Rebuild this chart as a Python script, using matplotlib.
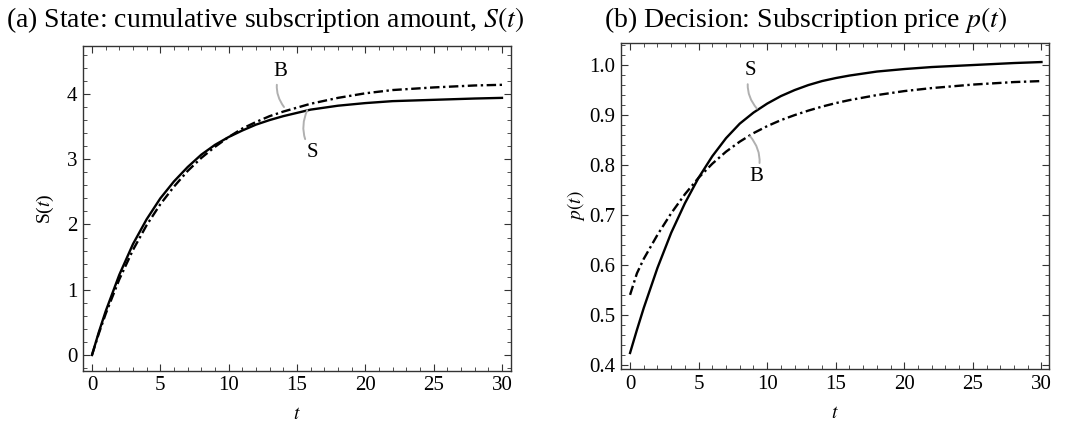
import matplotlib
matplotlib.use("Agg")
import matplotlib.pyplot as plt
from matplotlib.ticker import MultipleLocator, FormatStrFormatter

plt.rcParams['font.family'] = ['Liberation Serif', 'DejaVu Serif']
plt.rcParams['mathtext.fontset'] = 'stix'

# time grid
t = [0, 0.5, 1, 2, 3, 4, 5, 6, 7, 8, 9, 10, 11, 12, 13, 14, 15, 16, 18, 20, 22, 25, 28, 30]

# (a) cumulative subscription amount S(t)
S_state_S = [0.0, 0.35, 0.67, 1.23, 1.70, 2.08, 2.40, 2.66, 2.88, 3.07, 3.22, 3.34, 3.44, 3.53,
             3.60, 3.66, 3.71, 3.76, 3.82, 3.86, 3.89, 3.91, 3.93, 3.94]
S_state_B = [0.0, 0.33, 0.63, 1.16, 1.61, 1.99, 2.31, 2.58, 2.82, 3.02, 3.19, 3.34, 3.47, 3.57,
             3.66, 3.73, 3.79, 3.85, 3.94, 4.01, 4.06, 4.10, 4.13, 4.14]

# (b) subscription price p(t)
p_S = [0.424, 0.470, 0.514, 0.594, 0.664, 0.723, 0.774, 0.817, 0.853, 0.882, 0.904, 0.922, 0.937,
       0.949, 0.959, 0.967, 0.973, 0.978, 0.986, 0.991, 0.995, 0.999, 1.003, 1.005]
p_B = [0.540, 0.583, 0.612, 0.660, 0.703, 0.741, 0.774, 0.802, 0.826, 0.846, 0.863, 0.877, 0.889,
       0.899, 0.908, 0.916, 0.923, 0.929, 0.939, 0.947, 0.953, 0.960, 0.965, 0.967]

dashdot = (0, (4, 1.5, 1, 1.5))
frame = '#333333'
leader = '#b0b0b0'

fig = plt.figure(figsize=(10.65, 4.25), dpi=100)
ax1 = fig.add_axes([0.0779, 0.1278, 0.4019, 0.764])
ax2 = fig.add_axes([0.5831, 0.1318, 0.4019, 0.767])


def style(ax, ymajor, yminor):
    ax.xaxis.set_major_locator(MultipleLocator(5))
    ax.xaxis.set_minor_locator(MultipleLocator(1))
    ax.yaxis.set_major_locator(MultipleLocator(ymajor))
    ax.yaxis.set_minor_locator(MultipleLocator(yminor))
    ax.tick_params(which='both', direction='in', top=True, right=True,
                   color=frame, labelsize=15, pad=4)
    ax.tick_params(which='major', length=5, width=0.8)
    ax.tick_params(which='minor', length=3, width=0.6)
    for sp in ax.spines.values():
        sp.set_color(frame)
        sp.set_linewidth(1.0)
    ax.set_xlabel(r'$t$', fontsize=14, labelpad=8)


def leader_label(ax, txt, on_curve, at, rad):
    ax.annotate(txt, xy=on_curve, xytext=at, fontsize=15,
                ha='center', va='center',
                arrowprops=dict(arrowstyle='-', color=leader, lw=1.4,
                                shrinkA=1, shrinkB=0,
                                connectionstyle='arc3,rad=%g' % rad))


# ---- (a) ----
ax1.plot(t, S_state_S, color='black', lw=1.7)
ax1.plot(t, S_state_B, color='black', lw=1.7, linestyle=dashdot)
ax1.set_xlim(-0.66, 30.66)
ax1.set_ylim(-0.24, 4.735)
style(ax1, 1, 0.2)
ax1.set_ylabel(r'S($t$)', fontsize=14, labelpad=8)
leader_label(ax1, 'B', (14.05, 3.80), (13.8, 4.35), 0.3)
leader_label(ax1, 'S', (15.75, 3.75), (16.15, 3.10), -0.3)

# ---- (b) ----
ax2.plot(t, p_S, color='black', lw=1.7)
ax2.plot(t, p_B, color='black', lw=1.7, linestyle=dashdot)
ax2.set_xlim(-0.66, 30.55)
ax2.set_ylim(0.392, 1.043)
style(ax2, 0.1, 0.02)
ax2.yaxis.set_major_formatter(FormatStrFormatter('%.1f'))
ax2.set_ylabel(r'$p(t)$', fontsize=14, labelpad=2)
leader_label(ax2, 'S', (9.25, 0.912), (8.8, 0.988), 0.3)
leader_label(ax2, 'B', (8.75, 0.857), (9.2, 0.776), 0.3)

# panel titles
fig.text(0.249, 0.953, r'(a) State: cumulative subscription amount, $S(t)$',
         fontsize=20, ha='center', va='center')
fig.text(0.756, 0.953, r'(b) Decision: Subscription price $p(t)$',
         fontsize=20, ha='center', va='center')

fig.savefig('out.png', dpi=100)
